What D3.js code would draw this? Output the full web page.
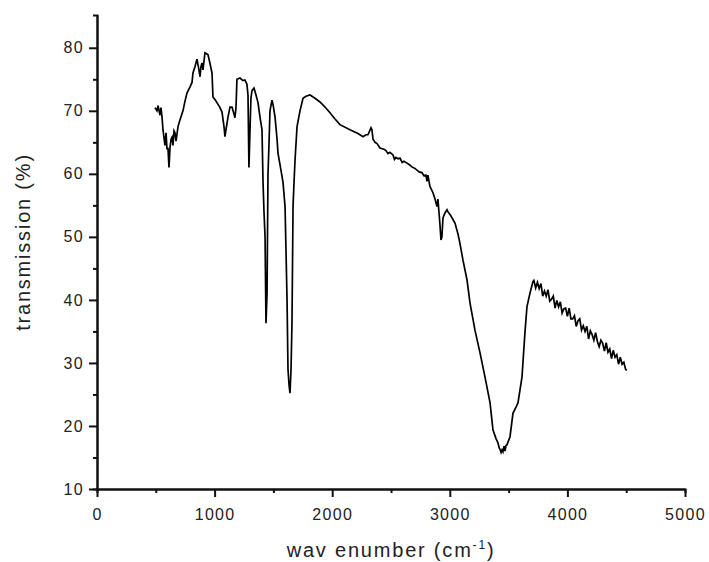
<!DOCTYPE html>
<html>
<head>
<meta charset="utf-8">
<script src="https://cdn.jsdelivr.net/npm/d3@7"></script>
<style>
  body { margin: 0; background: #fff; }
  svg text { font-family: "Liberation Sans", Arial, sans-serif; fill: #222; }
</style>
</head>
<body>
<div id="chart"></div>
<script>
// FTIR spectrum, values
var wavenumber = [493, 510, 519, 536, 544, 553, 561, 578, 587, 595, 604, 612, 621, 630, 638, 646, 655, 663, 672, 689, 706, 731, 748, 765, 791, 808, 816, 833, 850, 867, 876, 884, 893, 901, 918, 935, 944, 961, 978, 986, 1003, 1020, 1046, 1063, 1080, 1088, 1097, 1114, 1131, 1148, 1165, 1173, 1182, 1190, 1216, 1241, 1258, 1275, 1284, 1292, 1301, 1309, 1318, 1335, 1352, 1369, 1386, 1403, 1412, 1420, 1429, 1437, 1446, 1454, 1463, 1471, 1488, 1497, 1514, 1531, 1539, 1565, 1582, 1599, 1607, 1616, 1624, 1633, 1641, 1650, 1658, 1667, 1675, 1684, 1701, 1726, 1752, 1777, 1811, 1854, 1896, 1939, 1981, 2024, 2066, 2151, 2219, 2262, 2287, 2304, 2330, 2338, 2347, 2364, 2381, 2406, 2440, 2457, 2475, 2491, 2517, 2530, 2542, 2560, 2576, 2595, 2610, 2636, 2660, 2678, 2700, 2721, 2740, 2763, 2780, 2797, 2806, 2814, 2831, 2857, 2874, 2891, 2899, 2916, 2925, 2933, 2942, 2959, 2976, 2984, 3010, 3044, 3069, 3086, 3112, 3146, 3172, 3214, 3257, 3299, 3342, 3367, 3393, 3410, 3420, 3427, 3436, 3444, 3452, 3461, 3469, 3478, 3486, 3512, 3537, 3563, 3580, 3614, 3639, 3656, 3682, 3707,
    3715, 3730, 3745, 3760, 3775, 3790, 3805, 3820, 3835, 3850, 3865, 3880, 3895, 3910, 3925, 3940, 3955, 3970, 3985, 4000, 4015, 4030, 4045, 4060, 4075, 4090, 4105, 4120, 4135, 4150, 4165, 4180, 4195, 4210, 4225, 4240, 4255, 4270, 4285, 4300, 4315, 4330, 4345, 4360, 4375, 4390, 4405, 4420, 4435, 4450, 4465, 4480, 4495, 4505];
var transmission = [70.5, 70.0, 70.8, 69.3, 70.5, 69.0, 67.0, 64.5, 66.5, 64.0, 64.0, 61.0, 64.2, 65.5, 65.8, 64.5, 66.8, 66.5, 65.2, 67.5, 68.6, 70.0, 71.5, 72.8, 73.8, 74.5, 76.0, 77.0, 78.2, 76.5, 75.4, 77.0, 77.6, 76.5, 79.2, 79.0, 78.9, 77.5, 76.0, 72.2, 71.8, 71.3, 70.5, 69.8, 67.5, 65.9, 67.0, 69.0, 70.6, 70.6, 69.5, 68.9, 70.5, 75.0, 75.2, 74.8, 74.9, 74.2, 72.5, 61.0, 67.0, 72.0, 73.2, 73.6, 72.5, 71.3, 69.0, 67.0, 58.6, 54.0, 50.0, 36.3, 41.0, 60.0, 65.0, 70.0, 71.7, 71.0, 69.0, 65.5, 63.3, 60.5, 58.6, 54.8, 48.0, 40.0, 29.0, 26.5, 25.2, 29.0, 36.3, 54.8, 58.5, 62.2, 67.5, 70.0, 72.0, 72.3, 72.5, 72.0, 71.4, 70.6, 69.7, 68.7, 67.8, 67.0, 66.4, 65.9, 66.2, 66.2, 67.3, 67.0, 65.5, 65.0, 64.8, 64.1, 63.9, 63.7, 63.2, 63.4, 63.0, 62.3, 62.6, 62.4, 62.5, 61.8, 62.0, 61.7, 61.4, 61.1, 60.9, 60.6, 60.3, 60.2, 59.7, 59.8, 58.8, 59.8, 58.0, 57.0, 56.0, 54.8, 56.0, 52.0, 49.5, 50.0, 53.0, 53.8, 54.3, 54.0, 53.3, 52.2, 50.5, 49.0, 46.3, 43.2, 39.5, 35.2, 31.6, 27.8, 23.7, 19.4, 18.0, 17.3, 16.5, 16.3, 15.8, 16.2, 15.9, 16.8, 16.0, 16.9, 17.0, 18.3, 22.0, 23.0, 23.7, 27.8, 34.8, 38.9, 41.1, 42.9,
    43.1, 41.9, 42.8, 41.8, 42.6, 40.6, 41.4, 40.6, 41.6, 39.8, 40.1, 40.6, 38.7, 39.9, 38.9, 39.7, 37.9, 38.6, 38.7, 37.4, 38.7, 37.0, 37.0, 37.5, 35.8, 36.7, 37.0, 35.2, 35.9, 35.0, 35.8, 33.8, 35.1, 34.5, 33.6, 34.8, 33.4, 32.6, 33.6, 33.1, 31.9, 33.2, 31.7, 32.2, 30.7, 32.0, 30.9, 31.3, 29.8, 30.9, 29.8, 30.1, 29.0, 28.8];

var xTicks = [0, 1000, 2000, 3000, 4000, 5000];
var xMinorTicks = [500, 1500, 2500, 3500, 4500];
var yTicks = [10, 20, 30, 40, 50, 60, 70, 80];
var yMinorTicks = [15, 25, 35, 45, 55, 65, 75];

var width = 709, height = 562;
var m = {left: 97, right: 685, top: 15, bottom: 489};

var svg = d3.select('#chart').append('svg')
    .attr('width', width)
    .attr('height', height);

var x = d3.scaleLinear().domain([0, 5000]).range([m.left, m.right]);
var y = d3.scaleLinear().domain([10, 85.2]).range([m.bottom, m.top]);

// minor ticks first, then major ticks + labels
svg.append('g')
    .attr('transform', 'translate(0,' + m.bottom + ')')
    .call(d3.axisBottom(x).tickValues(xMinorTicks).tickSize(4).tickFormat(''));
svg.append('g')
    .attr('transform', 'translate(' + m.left + ',0)')
    .call(d3.axisLeft(y).tickValues(yMinorTicks).tickSize(4).tickFormat(''));

var xAxis = svg.append('g')
    .attr('class', 'x axis')
    .attr('transform', 'translate(0,' + m.bottom + ')')
    .call(d3.axisBottom(x).tickValues(xTicks).tickFormat(d3.format('d'))
        .tickSize(8).tickPadding(8).tickSizeOuter(0));
var yAxis = svg.append('g')
    .attr('class', 'y axis')
    .attr('transform', 'translate(' + m.left + ',0)')
    .call(d3.axisLeft(y).tickValues(yTicks).tickFormat(d3.format('d'))
        .tickSize(8).tickPadding(6).tickSizeOuter(0));

svg.selectAll('.domain').attr('stroke', '#111').attr('stroke-width', 2);
svg.selectAll('.tick line').attr('stroke', '#111').attr('stroke-width', 2);
svg.selectAll('.tick text')
    .style('font-family', '"Liberation Sans", Arial, sans-serif')
    .style('font-size', '16px')
    .style('letter-spacing', '1.3px')
    .attr('fill', '#333');
xAxis.selectAll('.tick text').attr('dy', '0.95em');
yAxis.selectAll('.tick text').attr('dx', '1px');

var line = d3.line()
    .x(function(d, i) { return x(wavenumber[i]); })
    .y(function(d) { return y(d); });

svg.append('path')
    .datum(transmission)
    .attr('fill', 'none')
    .attr('stroke', '#000')
    .attr('stroke-width', 1.7)
    .attr('stroke-linejoin', 'miter')
    .attr('d', line);

// axis titles
var xt = svg.append('text')
    .attr('x', (m.left + m.right) / 2)
    .attr('y', 557)
    .attr('text-anchor', 'middle')
    .style('font-size', '20px')
    .style('letter-spacing', '1.8px')
    .attr('fill', '#333');
xt.append('tspan').text('wav enumber (cm');
xt.append('tspan').attr('dy', -8).style('font-size', '12px').text('-1');
xt.append('tspan').attr('dy', 8).text(')');

svg.append('text')
    .attr('transform', 'translate(30,242) rotate(-90)')
    .attr('text-anchor', 'middle')
    .style('font-size', '20px')
    .style('letter-spacing', '1.8px')
    .attr('fill', '#333')
    .text('transmission (%)');
</script>
</body>
</html>
